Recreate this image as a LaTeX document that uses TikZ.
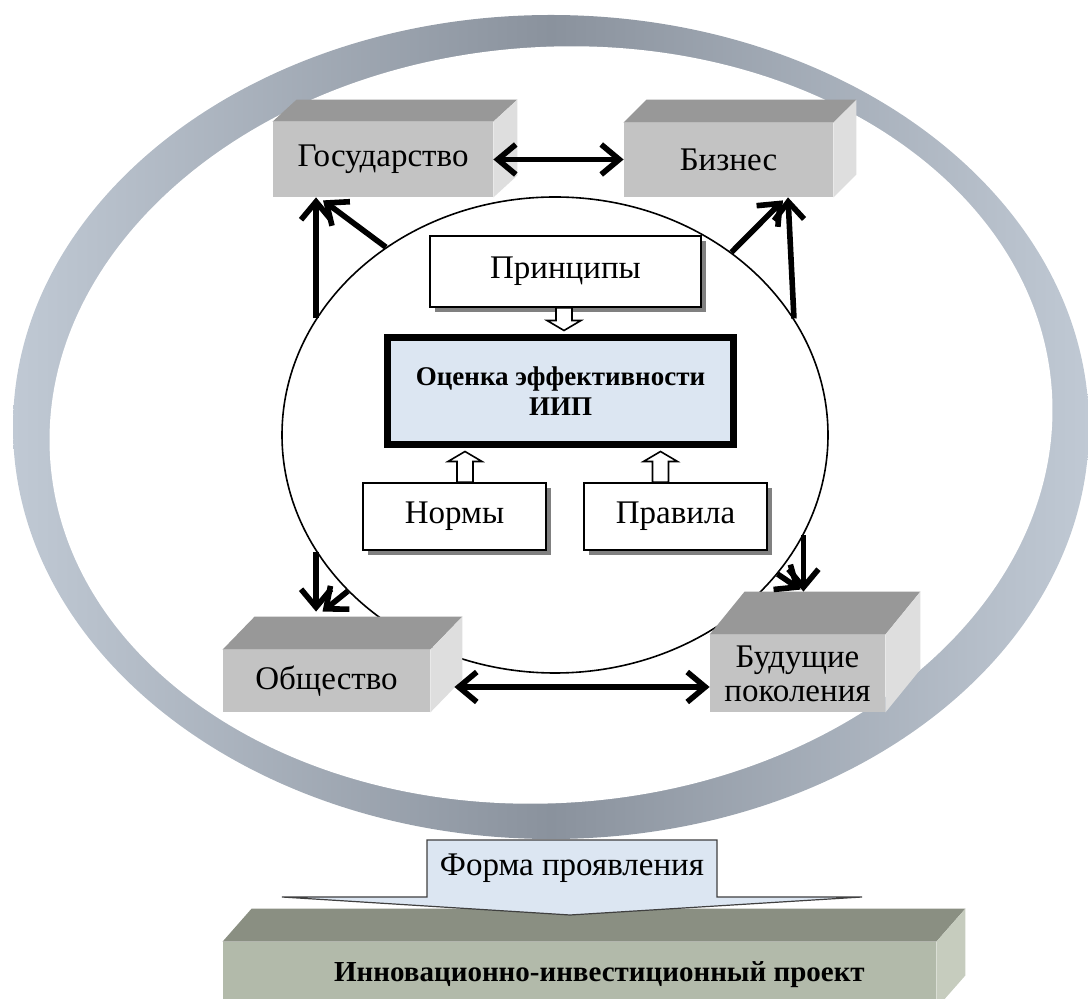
\documentclass[tikz,border=0pt]{standalone}
\usepackage{fontspec}
\setmainfont{Liberation Serif}
\usetikzlibrary{arrows.meta,calc,shapes.geometric,shadows}
\definecolor{ringdark}{RGB}{138,146,157}
\definecolor{ringlight}{RGB}{192,201,212}
\definecolor{boxfront}{RGB}{195,195,195}
\definecolor{boxtop}{RGB}{152,152,152}
\definecolor{boxside}{RGB}{222,222,222}
\definecolor{projfront}{RGB}{178,186,170}
\definecolor{projtop}{RGB}{138,143,130}
\definecolor{projside}{RGB}{198,204,190}
\definecolor{paleblue}{RGB}{220,230,242}
% name, centre, width, height, depth x, depth y, colour, text
\newcommand{\cuboid}[8]{
  \node[lbl, fill=#7front, minimum width=#3, minimum height=#4] (#1) at (#2) {#8};
  \fill[#7top] (#1.north west) -- ++(#5,#6) -- ($(#1.north east)+(#5,#6)$) -- (#1.north east) -- cycle;
  \fill[#7side] (#1.north east) -- ($(#1.north east)+(#5,#6)$) -- ($(#1.south east)+(#5,#6)$) -- (#1.south east) -- cycle;
  \coordinate (#1-back) at ($(#1.north)+(#5,#6)$);
}
% base, tip, 1 = up / -1 = down
\newcommand{\blockarrow}[3]{
  \draw[hollow] ($(#1)+(-8,0)$) -- ($(#2)+(-8,10*#3)$) -- ($(#2)+(-17,10*#3)$) -- (#2)
    -- ($(#2)+(17,10*#3)$) -- ($(#2)+(8,10*#3)$) -- ($(#1)+(8,0)$) -- cycle;
}
\begin{document}
\begin{tikzpicture}[x=0.5pt, y=-0.5pt,
  lbl/.style={font=\fontsize{16.5}{17}\selectfont, align=center, inner sep=0pt},
  whitebox/.style={lbl, draw, line width=0.8pt, fill=white,
    drop shadow={shadow xshift=2.5pt, shadow yshift=-2.5pt, fill=black!50, opacity=1}},
  thickarrow/.style={line width=2.8pt, >={Straight Barb[length=9pt, width=15pt]}},
  hollow/.style={draw, line width=0.8pt, fill=white}]
\useasboundingbox (0,0) rectangle (1088,999);
\clip (0,0) rectangle (1088,999);
% ring
\shade[left color=ringlight, right color=ringlight, middle color=ringdark] (551,427) ellipse [x radius=538, y radius=412];
\fill[white, rotate around={4:(551,425)}] (551,425) ellipse [x radius=502, y radius=378];
\node[ellipse, draw, line width=0.8pt, fill=white, minimum width=273pt, minimum height=238pt, inner sep=0pt] (circ) at (555,435) {};
% participants
\cuboid{gos}{383,159.5}{110pt}{37.5pt}{24}{-22}{box}{Государство}
\cuboid{biz}{728.5,160}{104.5pt}{37pt}{23}{-23}{box}{Бизнес}
\cuboid{obs}{326.5,681}{103.5pt}{31pt}{32}{-33}{box}{Общество}
\cuboid{bud}{797.5,673.5}{87.5pt}{38.5pt}{35}{-43}{box}{Будущие\\поколения}
% inside the circle
\node[whitebox, minimum width=135.5pt, minimum height=35.5pt] (prin) at (565.5,271.5) {Принципы};
\node[lbl, draw, line width=3.5pt, fill=paleblue, minimum width=173pt, minimum height=53.5pt,
  font=\fontsize{13.5}{15}\selectfont\bfseries] (ocen) at (560.5,391) {Оценка эффективности\\ИИП};
\node[whitebox, minimum width=91.5pt, minimum height=33.5pt] (norm) at (454.5,516.5) {Нормы};
\node[whitebox, minimum width=91.5pt, minimum height=33.5pt] (prav) at (675.5,516.5) {Правила};
\coordinate (ocent) at ([yshift=1.75pt]ocen.north);
\coordinate (ocenb) at ([yshift=-1.75pt]ocen.south);
\coordinate (pb) at ([xshift=-0.75pt]prin.south);
\coordinate (ptip) at (pb |- ocent);
\coordinate (nb) at ([xshift=5.25pt]norm.north);
\coordinate (ntip) at (nb |- ocenb);
\coordinate (rb) at ([xshift=-7.5pt]prav.north);
\coordinate (rtip) at (rb |- ocenb);
\blockarrow{pb}{ptip}{-1}
\blockarrow{nb}{ntip}{1}
\blockarrow{rb}{rtip}{1}
% links between participants
\draw[thickarrow, <->] (gos.east) -- (gos.east -| biz.west);
\coordinate (oa) at ([xshift=12pt, yshift=-3pt]obs.east);
\draw[thickarrow, <->] (oa) -- (oa -| bud.west);
\draw[thickarrow, ->] (circ.154) -- (circ.154 |- gos.south);
\draw[thickarrow, ->] (circ.132) -- ([xshift=-30pt, yshift=-1.5pt]gos.south);
\draw[thickarrow, ->] (circ.26) -- ([xshift=29.75pt]biz.south);
\draw[thickarrow, ->] (circ.46) -- ([xshift=27.25pt, yshift=-1.5pt]biz.south);
\coordinate (otip) at ([yshift=2.5pt]obs-back);
\draw[thickarrow, ->] (circ.206.5) -- (circ.206.5 |- otip);
\draw[thickarrow, ->] (circ.217) -- ([xshift=-18pt]otip);
\draw[thickarrow, ->] (circ.338.4) -- (circ.338.4 |- bud-back);
\draw[thickarrow, ->] (circ.328.8) -- ([xshift=-16pt, yshift=1pt]bud-back);
% project
\cuboid{proj}{579.5,975}{356.5pt}{33pt}{29}{-33}{proj}{\fontsize{14.5}{17}\selectfont\bfseries\hspace*{20pt}Инновационно-инвестиционный проект}
\draw[fill=paleblue, draw=black!75, line width=0.6pt] (427,840) -- (717,840) -- (717,897) -- (862,897)
  -- (570,915) -- (282,897) -- (427,897) -- cycle;
\node[lbl] (forma) at (572,868) {Форма проявления};
\end{tikzpicture}
\end{document}
